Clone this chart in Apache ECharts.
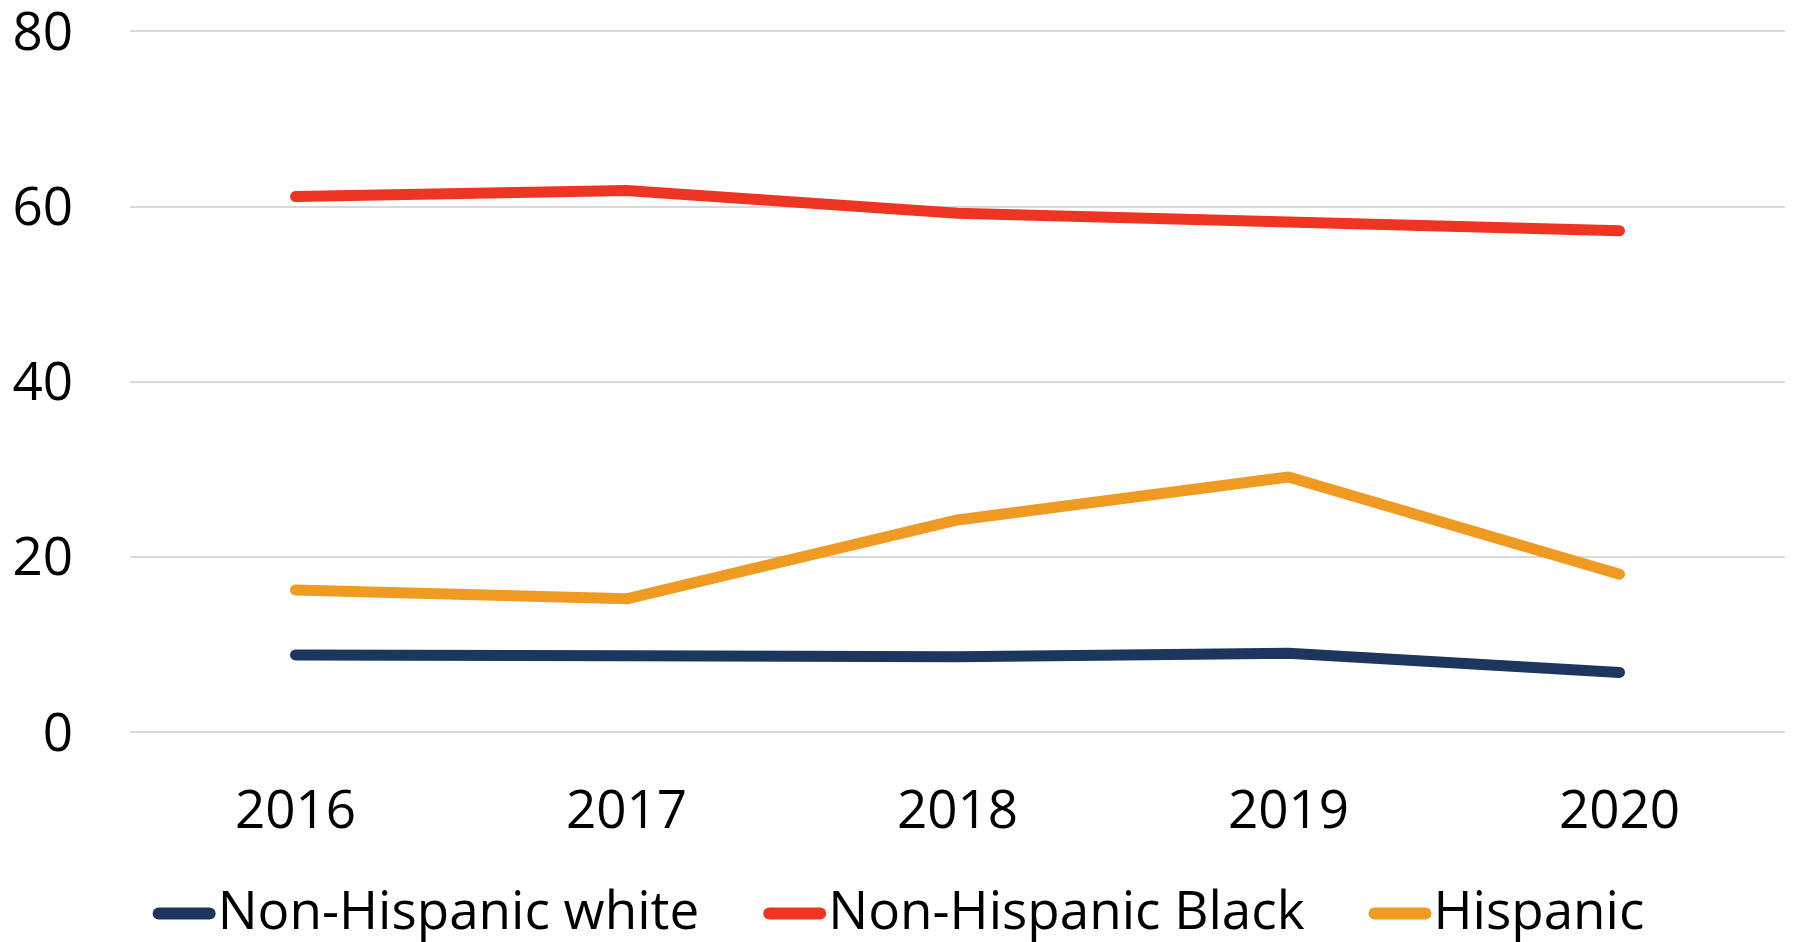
<!DOCTYPE html>
<html>
<head>
<meta charset="utf-8">
<script src="https://cdn.jsdelivr.net/npm/echarts@6/dist/echarts.min.js"></script>
<style>
html,body{margin:0;padding:0;background:#fff;}
#chart{width:1797px;height:942px;}
</style>
</head>
<body>
<div id="chart"></div>
<script>
var categories = ['2016', '2017', '2018', '2019', '2020'];
var whiteValues = [8.8, 8.7, 8.6, 9.0, 6.8];
var blackValues = [61.1, 61.8, 59.2, 58.2, 57.2];
var hispanicValues = [16.2, 15.2, 24.2, 29.1, 18.0];
var yTicks = [0, 20, 40, 60, 80];
var seriesNames = ['Non-Hispanic white', 'Non-Hispanic Black', 'Hispanic'];

var colors = ['#1c365d', '#ee3524', '#ef9a23'];
var font = '"Open Sans", "Noto Sans", sans-serif';
var chart = echarts.init(document.getElementById('chart'));

function lineSeries(name, data, color) {
  return {
    name: name,
    type: 'line',
    data: data,
    showSymbol: false,
    symbol: 'none',
    lineStyle: { color: color, width: 11, cap: 'round', join: 'round' },
    itemStyle: { color: color },
    animation: false
  };
}

chart.setOption({
  animation: false,
  grid: { left: 130, right: 12, top: 31, bottom: 210 },
  legend: {
    left: 'center',
    top: 882,
    itemWidth: 63,
    itemHeight: 12,
    itemGap: 64,
    icon: 'path://M6,0 H57 A6,6 0 0 1 57,12 H6 A6,6 0 0 1 6,0 Z',
    textStyle: { fontFamily: font, fontSize: 53, color: '#000', padding: [0, 0, 0, -3] },
    data: seriesNames
  },
  xAxis: {
    type: 'category',
    data: categories,
    boundaryGap: true,
    axisLine: { show: false },
    axisTick: { show: false },
    axisLabel: { fontFamily: font, fontSize: 53, color: '#000', margin: 54 }
  },
  yAxis: {
    type: 'value',
    min: yTicks[0],
    max: yTicks[yTicks.length - 1],
    interval: yTicks[1] - yTicks[0],
    axisLine: { show: false },
    axisTick: { show: false },
    axisLabel: {
      margin: 57,
      formatter: '{v|{value}}',
      rich: { v: { fontFamily: font, fontSize: 53, color: '#000', padding: [7, 0, 0, 0] } }
    },
    splitLine: { lineStyle: { color: '#d9d9d9', width: 2 } }
  },
  series: [
    lineSeries(seriesNames[0], whiteValues, colors[0]),
    lineSeries(seriesNames[1], blackValues, colors[1]),
    lineSeries(seriesNames[2], hispanicValues, colors[2])
  ]
});
</script>
</body>
</html>
